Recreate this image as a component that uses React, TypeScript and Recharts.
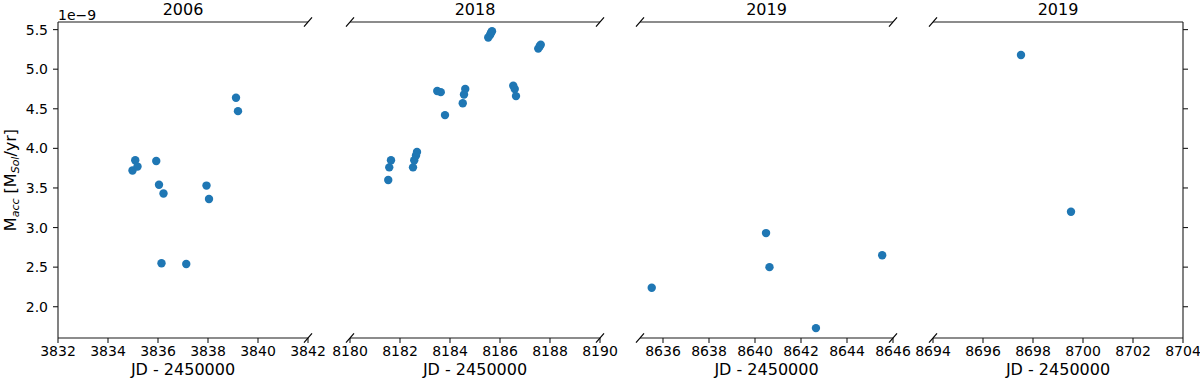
import React from 'react';
import { ScatterChart, Scatter, XAxis, YAxis, ReferenceLine } from 'recharts';

// accretion rate in units of 1e-9 Msol/yr, x in JD - 2450000
const jd2006 = [3834.98, 3835.09, 3835.18, 3835.93, 3836.04, 3836.22, 3836.14, 3837.13, 3837.94, 3838.04, 3839.12, 3839.2];
const macc2006 = [3.72, 3.85, 3.77, 3.84, 3.54, 3.43, 2.55, 2.54, 3.53, 3.36, 4.64, 4.47];

const jd2018 = [
  8181.53, 8181.57, 8181.64, 8182.52, 8182.57, 8182.64, 8182.68, 8183.49, 8183.63, 8183.8, 8184.51, 8184.56,
  8184.61, 8185.53, 8185.6, 8185.64, 8185.68, 8186.53, 8186.59, 8186.64, 8187.53, 8187.59, 8187.63,
];
const macc2018 = [
  3.6, 3.76, 3.85, 3.76, 3.85, 3.91, 3.955, 4.725, 4.71, 4.42, 4.57, 4.68,
  4.75, 5.4, 5.43, 5.46, 5.48, 4.79, 4.75, 4.66, 5.26, 5.29, 5.31,
];

const jd2019a = [8635.51, 8640.48, 8640.63, 8642.65, 8645.53];
const macc2019a = [2.24, 2.93, 2.5, 1.73, 2.65];

const jd2019b = [8697.52, 8699.52];
const macc2019b = [5.18, 3.2];

const titles = ['2006', '2018', '2019', '2019'];
const xDomains: [number, number][] = [[3832, 3842], [8180, 8190], [8635, 8646], [8694, 8704]];
const xTicks = [
  [3832, 3834, 3836, 3838, 3840, 3842],
  [8180, 8182, 8184, 8186, 8188, 8190],
  [8636, 8638, 8640, 8642, 8644, 8646],
  [8694, 8696, 8698, 8700, 8702, 8704],
];
const yTicks = [2.0, 2.5, 3.0, 3.5, 4.0, 4.5, 5.0, 5.5];
const Y_MIN = 1.605;
const Y_MAX = 5.596;

const series = [
  { x: jd2006, y: macc2006 },
  { x: jd2018, y: macc2018 },
  { x: jd2019a, y: macc2019a },
  { x: jd2019b, y: macc2019b },
];

// layout (pixels)
const W = 1200;
const H = 385;
const TOP = 22;
const BOTTOM = 338;
const plotLeft = [58, 350, 640, 933];
const plotRight = [308, 600, 893, 1183];
const FONT = 'DejaVu Sans, sans-serif';
const BLUE = '#1f77b4';
const SPINE = '#1a1a1a';

const Dot = (props: any) => <circle cx={props.cx} cy={props.cy} r={4.2} fill={BLUE} />;

const tickStyle = { fontSize: 14, fill: '#000', fontFamily: FONT };

const Panel = ({ i }: { i: number }) => {
  const first = i === 0;
  const last = i === 3;
  const padL = first ? 0 : 25;
  const yW = first ? 58 : 0;
  const rightAxisW = last ? 10 : 0;
  const padR = last ? 7 : 25;
  const plotW = plotRight[i] - plotLeft[i];
  const chartLeft = plotLeft[i] - yW - padL;
  const width = padL + yW + plotW + rightAxisW + padR;
  const data = series[i].x.map((x, k) => ({ x, y: series[i].y[k] }));

  return (
    <div style={{ position: 'absolute', left: chartLeft, top: 0, width, height: H }}>
      <ScatterChart width={width} height={H} margin={{ top: TOP, right: padR, bottom: H - BOTTOM - 30, left: padL }}>
        <XAxis
          type="number"
          dataKey="x"
          domain={xDomains[i]}
          ticks={xTicks[i]}
          allowDataOverflow
          height={30}
          tickSize={5}
          tickMargin={3}
          tick={tickStyle}
          axisLine={{ stroke: SPINE, strokeWidth: 1.1 }}
          tickLine={{ stroke: SPINE, strokeWidth: 1.1 }}
          interval={0}
        />
        {first ? (
          <YAxis
            type="number"
            dataKey="y"
            domain={[Y_MIN, Y_MAX]}
            ticks={yTicks}
            allowDataOverflow
            width={yW}
            tickSize={5}
            tickMargin={5}
            tick={tickStyle}
            tickFormatter={(v: number) => v.toFixed(1)}
            axisLine={{ stroke: SPINE, strokeWidth: 1.1 }}
            tickLine={{ stroke: SPINE, strokeWidth: 1.1 }}
            interval={0}
          />
        ) : last ? (
          <YAxis
            type="number"
            dataKey="y"
            orientation="right"
            domain={[Y_MIN, Y_MAX]}
            ticks={yTicks}
            allowDataOverflow
            width={rightAxisW}
            tickSize={5}
            tickMargin={2}
            tickFormatter={() => ''}
            axisLine={{ stroke: SPINE, strokeWidth: 1.1 }}
            tickLine={{ stroke: SPINE, strokeWidth: 1.1 }}
            interval={0}
          />
        ) : (
          <YAxis type="number" dataKey="y" domain={[Y_MIN, Y_MAX]} allowDataOverflow hide />
        )}
        <ReferenceLine y={Y_MAX} stroke={SPINE} strokeWidth={1.1} />
        <Scatter data={data} shape={<Dot />} isAnimationActive={false} />
      </ScatterChart>
    </div>
  );
};

const BreakMark = ({ x, y }: { x: number; y: number }) => (
  <line x1={x - 4} y1={y + 4.7} x2={x + 4} y2={y - 4.7} stroke="#000" strokeWidth={1.2} />
);

export default function App() {
  const marks: { x: number; y: number }[] = [];
  for (let i = 0; i < 4; i++) {
    if (i > 0) {
      marks.push({ x: plotLeft[i], y: TOP }, { x: plotLeft[i], y: BOTTOM });
    }
    if (i < 3) {
      marks.push({ x: plotRight[i], y: TOP }, { x: plotRight[i], y: BOTTOM });
    }
  }

  return (
    <div style={{ position: 'absolute', left: 0, top: 0, width: W, height: H, background: '#fff', fontFamily: FONT }}>
      {[0, 1, 2, 3].map((i) => (
        <Panel key={i} i={i} />
      ))}
      <svg width={W} height={H} style={{ position: 'absolute', left: 0, top: 0, pointerEvents: 'none' }}>
        {marks.map((m, k) => (
          <BreakMark key={k} x={m.x} y={m.y} />
        ))}
        {titles.map((t, i) => (
          <text
            key={'t' + i}
            x={(plotLeft[i] + plotRight[i]) / 2}
            y={15}
            textAnchor="middle"
            fontSize={16}
            fontFamily={FONT}
            fill="#000"
          >
            {t}
          </text>
        ))}
        {titles.map((_, i) => (
          <text
            key={'x' + i}
            x={(plotLeft[i] + plotRight[i]) / 2}
            y={375}
            textAnchor="middle"
            fontSize={16}
            fontFamily={FONT}
            fill="#000"
          >
            JD - 2450000
          </text>
        ))}
        <text x={58} y={20} fontSize={14} fontFamily={FONT} fill="#000">
          1e−9
        </text>
        <text
          x={16}
          y={180}
          transform="rotate(-90 16 180)"
          textAnchor="middle"
          fontSize={16}
          fontFamily={FONT}
          fill="#000"
        >
          M
          <tspan fontSize={11} fontStyle="italic" dy={3}>
            acc
          </tspan>
          <tspan dy={-3}> [M</tspan>
          <tspan fontSize={11} fontStyle="italic" dy={3}>
            Sol
          </tspan>
          <tspan dy={-3}>/yr]</tspan>
        </text>
      </svg>
    </div>
  );
}
